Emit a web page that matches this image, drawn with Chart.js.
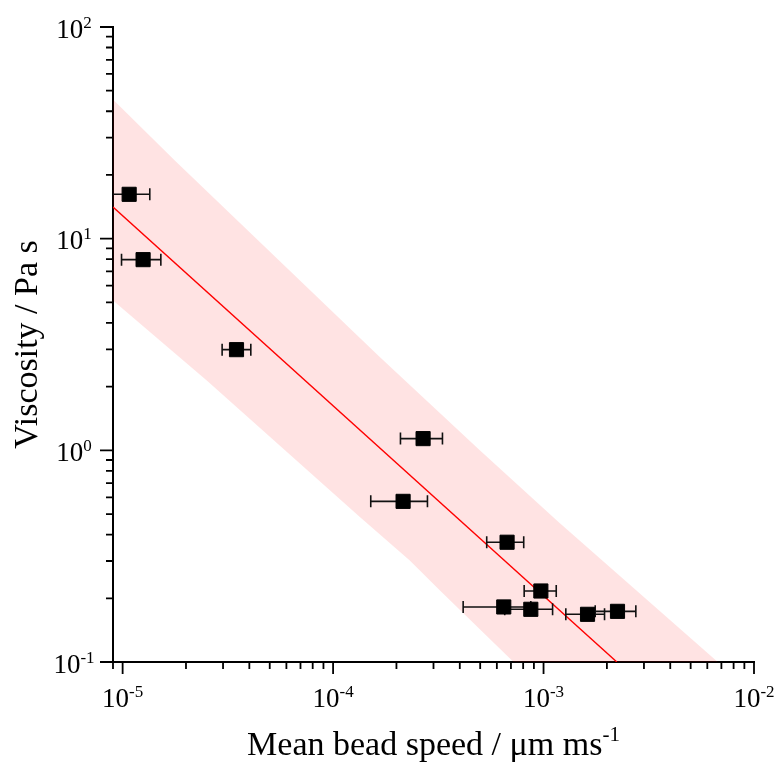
<!DOCTYPE html>
<html>
<head>
<meta charset="utf-8">
<script src="https://cdn.jsdelivr.net/npm/chart.js@4"></script>
<style>
  body { margin: 0; background: #fff; }
</style>
</head>
<body>
<canvas id="viscChart" width="778" height="765"></canvas>
<script>
// measured points: mean bead speed (um/ms) vs viscosity (Pa s)
const speed     = [1.074e-5, 1.251e-5, 3.476e-5, 2.677e-4, 2.151e-4, 6.71e-4, 9.71e-4, 6.47e-4, 8.70e-4, 1.618e-3, 2.246e-3];
const viscosity = [16.2, 7.96, 2.99, 1.136, 0.574, 0.368, 0.2165, 0.182, 0.1774, 0.168, 0.1735];
// horizontal error bar ends
const speedLow  = [0.80e-5, 0.988e-5, 2.97e-5, 2.09e-4, 1.51e-4, 5.37e-4, 8.09e-4, 4.15e-4, 6.54e-4, 1.276e-3, 1.76e-3];
const speedHigh = [1.346e-5, 1.519e-5, 4.065e-5, 3.309e-4, 2.808e-4, 8.05e-4, 1.149e-3, 8.7e-4, 1.104e-3, 1.949e-3, 2.745e-3];

// power law fit (end points on the axes)
const fitX = [9e-6, 2.23e-3];
const fitY = [14.1, 0.1];

// shaded band edges
const bandUpperX = [9e-6, 1.77e-5, 1.667e-4, 4.98e-4, 1.178e-3, 6.73e-3];
const bandUpperY = [45.4, 23.4, 2.76, 1.0, 0.458, 0.1];
const bandLowerX = [9e-6, 2.51e-5, 1.34e-4, 2.314e-4, 3.21e-4, 7.2e-4];
const bandLowerY = [5.11, 2.14, 0.484, 0.302, 0.218, 0.1];

// axes
const xMin = 9e-6, xMax = 1e-2;
const yMin = 0.1, yMax = 100;
const xTickExp = [-5, -4, -3, -2];
const yTickExp = [-1, 0, 1, 2];

const serif = '"Liberation Serif", "Times New Roman", serif';

// band polygon: along the upper edge, back along the lower edge
const bandPts = bandUpperX.map((v, i) => ({x: v, y: bandUpperY[i]}));
for (let i = bandLowerX.length - 1; i >= 0; i--) {
    bandPts.push({x: bandLowerX[i], y: bandLowerY[i]});
}

function drawPow(ctx, exp, cx, baseY) {
    const big = '27px ' + serif, small = '17px ' + serif;
    const sup = String(exp);
    ctx.font = big;
    const w1 = ctx.measureText('10').width;
    ctx.font = small;
    const w2 = ctx.measureText(sup).width;
    const x0 = cx - (w1 + w2) / 2;
    ctx.textAlign = 'left';
    ctx.textBaseline = 'alphabetic';
    ctx.font = big;
    ctx.fillText('10', x0, baseY);
    ctx.font = small;
    ctx.fillText(sup, x0 + w1, baseY - 10);
}

const decor = {
    id: 'decor',
    beforeDatasetDraw(chart, args) {
        if (args.index !== 0) return;
        const {ctx, chartArea: a, scales: {x, y}} = chart;
        ctx.save();
        ctx.beginPath();
        ctx.rect(a.left, a.top, a.right - a.left, a.bottom - a.top);
        ctx.clip();
        ctx.strokeStyle = '#111';
        ctx.lineWidth = 1.6;
        ctx.beginPath();
        speed.forEach((v, i) => {
            const py = y.getPixelForValue(viscosity[i]);
            const x0 = x.getPixelForValue(speedLow[i]);
            const x1 = x.getPixelForValue(speedHigh[i]);
            ctx.moveTo(x0, py); ctx.lineTo(x1, py);
            ctx.moveTo(x0, py - 6); ctx.lineTo(x0, py + 6);
            ctx.moveTo(x1, py - 6); ctx.lineTo(x1, py + 6);
        });
        ctx.stroke();
        ctx.restore();
    },
    afterDraw(chart) {
        const {ctx, chartArea: a, scales: {x, y}} = chart;
        ctx.save();
        ctx.strokeStyle = '#000';
        ctx.fillStyle = '#000';
        ctx.lineWidth = 1.8;
        ctx.beginPath();
        for (let e = -6; e <= -2; e++) {
            for (let m = 1; m <= 9; m++) {
                const v = m * Math.pow(10, e);
                if (v < xMin * 0.999 || v > xMax * 1.001) continue;
                const px = x.getPixelForValue(v);
                ctx.moveTo(px, a.bottom);
                ctx.lineTo(px, a.bottom + (m === 1 ? 12 : 7));
            }
        }
        for (let e = -1; e <= 2; e++) {
            for (let m = 1; m <= 9; m++) {
                const v = m * Math.pow(10, e);
                if (v < yMin * 0.999 || v > yMax * 1.001) continue;
                const py = y.getPixelForValue(v);
                ctx.moveTo(a.left, py);
                ctx.lineTo(a.left - (m === 1 ? 13 : 7), py);
            }
        }
        ctx.stroke();

        xTickExp.forEach(e => drawPow(ctx, e, x.getPixelForValue(Math.pow(10, e)), a.bottom + 45));
        yTickExp.forEach(e => drawPow(ctx, e, 74, y.getPixelForValue(Math.pow(10, e)) + 10.5));

        // axis titles
        ctx.font = '34px ' + serif;
        ctx.textBaseline = 'alphabetic';
        const main = 'Mean bead speed / \u03bcm ms';
        const wMain = ctx.measureText(main).width;
        ctx.font = '21px ' + serif;
        const wSup = ctx.measureText('-1').width;
        const cx = (a.left + a.right) / 2;
        const sx = cx - (wMain + wSup) / 2;
        ctx.textAlign = 'left';
        ctx.font = '34px ' + serif;
        ctx.fillText(main, sx, 755);
        ctx.font = '21px ' + serif;
        ctx.fillText('-1', sx + wMain, 741);

        ctx.translate(37, (a.top + a.bottom) / 2);
        ctx.rotate(-Math.PI / 2);
        ctx.textAlign = 'center';
        ctx.font = '34px ' + serif;
        ctx.fillText('Viscosity / Pa s', 0, 0);
        ctx.restore();
    }
};

const ctx = document.getElementById('viscChart').getContext('2d');
new Chart(ctx, {
    type: 'scatter',
    data: {
        datasets: [{
            label: 'Viscosity',
            data: speed.map((v, i) => ({x: v, y: viscosity[i]})),
            pointStyle: 'rect',
            pointRadius: 10,
            pointBackgroundColor: '#000',
            pointBorderColor: '#000',
            pointBorderWidth: 1
        }, {
            label: 'Fit',
            data: fitX.map((v, i) => ({x: v, y: fitY[i]})),
            showLine: true,
            borderColor: '#ff0000',
            borderWidth: 1.4,
            pointRadius: 0
        }, {
            label: 'Band',
            data: bandPts,
            showLine: true,
            fill: 'shape',
            backgroundColor: 'rgba(255, 0, 0, 0.11)',
            borderWidth: 0,
            pointRadius: 0
        }]
    },
    options: {
        responsive: false,
        animation: false,
        events: [],
        layout: {
            padding: {left: 113, right: 24, top: 27, bottom: 103}
        },
        scales: {
            x: {
                type: 'logarithmic',
                min: xMin,
                max: xMax,
                grid: {display: false, drawTicks: false},
                border: {display: true, color: '#000', width: 2},
                ticks: {display: false}
            },
            y: {
                type: 'logarithmic',
                min: yMin,
                max: yMax,
                grid: {display: false, drawTicks: false},
                border: {display: true, color: '#000', width: 2},
                ticks: {display: false}
            }
        },
        plugins: {
            legend: {display: false},
            tooltip: {enabled: false}
        }
    },
    plugins: [decor]
});
</script>
</body>
</html>
